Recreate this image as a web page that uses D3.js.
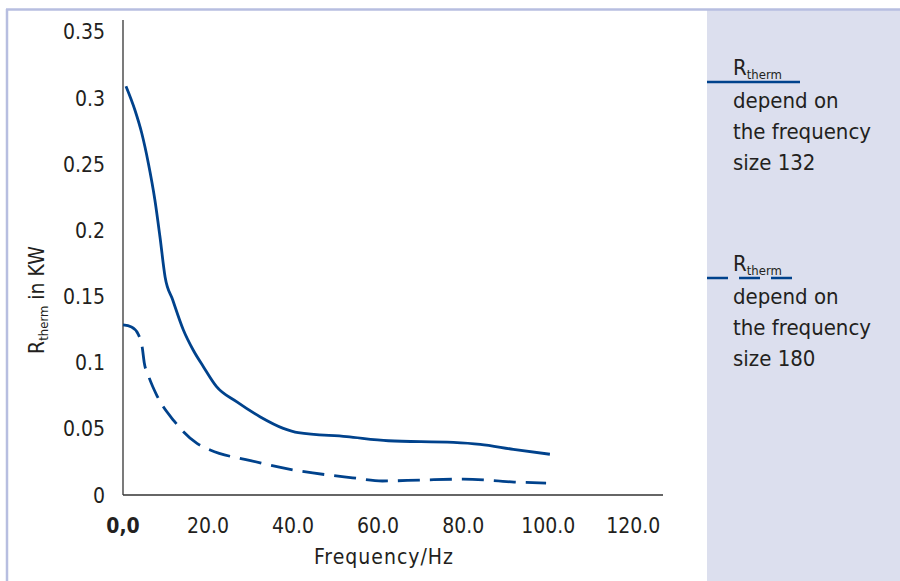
<!DOCTYPE html>
<html>
<head>
<meta charset="utf-8">
<script src="https://cdn.jsdelivr.net/npm/d3@7"></script>
<style>
  body { margin: 0; background: #fff; }
  svg { display: block; font-family: "Liberation Sans Narrow", "DejaVu Sans Condensed", sans-serif; }
  .tick-label { fill: #231f20; font-size: 21px; }
  .axis-title { fill: #231f20; font-size: 21px; }
  .legend-text { fill: #231f20; font-size: 22px; }
</style>
</head>
<body>
<svg></svg>
<script>
// x ticks and labels
var xTicks = [0, 20, 40, 60, 80, 100, 120];
var xTickLabels = ['0,0', '20.0', '40.0', '60.0', '80.0', '100.0', '120.0'];
// y ticks and labels
var yTicks = [0, 0.05, 0.1, 0.15, 0.2, 0.25, 0.3, 0.35];
var yTickLabels = ['0', '0.05', '0.1', '0.15', '0.2', '0.25', '0.3', '0.35'];

// size 132 (solid)
var freq132 = [0.7, 2.8, 4.4, 5.95, 7.5, 8.7, 9.9, 11.7, 14.2, 16.5, 18.9, 22.0, 26.7, 32.2, 37.7, 41.2, 52.6, 62.4, 77.7, 84.0, 91.8, 100.4];
var rth132 = [0.309, 0.291, 0.2736, 0.251, 0.223, 0.195, 0.1648, 0.1474, 0.1247, 0.1096, 0.097, 0.0819, 0.0705, 0.0592, 0.0504, 0.0471, 0.0441, 0.041, 0.0398, 0.0383, 0.0345, 0.0308];

// size 180 (dashed)
var freq180 = [0, 2, 3.5, 4.5, 5, 6, 8, 12, 17.4, 20.5, 30, 40, 54, 61, 70, 80, 92, 99.5];
var rth180 = [0.1285, 0.127, 0.122, 0.112, 0.1, 0.09, 0.075, 0.056, 0.039, 0.034, 0.026, 0.019, 0.013, 0.0106, 0.0113, 0.012, 0.0098, 0.009];

var legendLines132 = ['depend on', 'the frequency', 'size 132'];
var legendLines180 = ['depend on', 'the frequency', 'size 180'];

var width = 900;
var height = 581;
var lineColor = '#00428c';
var borderColor = '#b7bee0';

var svg = d3.select('svg')
  .attr('width', width)
  .attr('height', height);

// frame and side panel
svg.append('rect')
  .attr('x', 707).attr('y', 10)
  .attr('width', width - 707).attr('height', height - 10)
  .attr('fill', '#dcdfee');
svg.append('line')
  .attr('x1', 6).attr('x2', width).attr('y1', 9.5).attr('y2', 9.5)
  .attr('stroke', borderColor).attr('stroke-width', 2.5);
svg.append('line')
  .attr('x1', 7).attr('x2', 7).attr('y1', 9).attr('y2', height)
  .attr('stroke', borderColor).attr('stroke-width', 2.5);

var scaleX = d3.scaleLinear().domain([0, 127]).range([123, 663]);
var scaleY = d3.scaleLinear().domain([0, 0.359]).range([495, 20]);

var g = svg.append('g');

// axes lines
g.append('line')
  .attr('x1', scaleX(0)).attr('x2', scaleX(0))
  .attr('y1', scaleY(0.359)).attr('y2', scaleY(0))
  .attr('stroke', '#333').attr('stroke-width', 1.3);
g.append('line')
  .attr('x1', scaleX(0)).attr('x2', scaleX(127))
  .attr('y1', scaleY(0)).attr('y2', scaleY(0))
  .attr('stroke', '#333').attr('stroke-width', 1.5);

// y tick labels
g.selectAll('.y-label')
  .data(yTicks)
  .enter().append('text')
  .attr('class', 'tick-label y-label')
  .attr('x', 105)
  .attr('y', function(d) { return scaleY(d); })
  .attr('dy', '0.36em')
  .attr('text-anchor', 'end')
  .text(function(d, i) { return yTickLabels[i]; });

// x tick labels
g.selectAll('.x-label')
  .data(xTicks)
  .enter().append('text')
  .attr('class', 'tick-label x-label')
  .attr('x', function(d) { return scaleX(d); })
  .attr('y', 533)
  .attr('text-anchor', 'middle')
  .attr('font-weight', function(d, i) { return i === 0 ? 'bold' : 'normal'; })
  .text(function(d, i) { return xTickLabels[i]; });

// axis titles
g.append('text')
  .attr('class', 'axis-title')
  .attr('x', 384).attr('y', 564)
  .attr('text-anchor', 'middle')
  .attr('letter-spacing', '1px')
  .text('Frequency/Hz');

var yTitle = g.append('text')
  .attr('class', 'axis-title')
  .attr('transform', 'translate(44,300) rotate(-90)')
  .attr('text-anchor', 'middle');
yTitle.append('tspan').text('R');
yTitle.append('tspan').attr('font-size', '13px').attr('dy', 4).text('therm');
yTitle.append('tspan').attr('dy', -4).text(' in KW');

// curves
var line = d3.line()
  .x(function(d) { return scaleX(d[0]); })
  .y(function(d) { return scaleY(d[1]); })
  .curve(d3.curveMonotoneX);

g.append('path')
  .datum(d3.zip(freq132, rth132))
  .attr('d', line)
  .attr('fill', 'none')
  .attr('stroke', lineColor)
  .attr('stroke-width', 2.8);

g.append('path')
  .datum(d3.zip(freq180, rth180))
  .attr('d', line)
  .attr('fill', 'none')
  .attr('stroke', lineColor)
  .attr('stroke-width', 2.8)
  .attr('stroke-dasharray', '22,10');

// legend
function drawLegend(top, lines, dashed) {
  var lg = svg.append('g');
  var title = lg.append('text')
    .attr('class', 'legend-text')
    .attr('x', 733).attr('y', top);
  title.append('tspan').text('R');
  title.append('tspan').attr('font-size', '13px').attr('dy', 4).text('therm');
  lg.append('line')
    .attr('x1', 707).attr('x2', dashed ? 793 : 800)
    .attr('y1', top + 7).attr('y2', top + 7)
    .attr('stroke', lineColor).attr('stroke-width', 2.5)
    .attr('stroke-dasharray', dashed ? '21,11' : null);
  lg.selectAll('.legend-line')
    .data(lines)
    .enter().append('text')
    .attr('class', 'legend-text')
    .attr('x', 733)
    .attr('y', function(d, i) { return top + 33 + i * 31; })
    .text(function(d) { return d; });
}

drawLegend(75, legendLines132, false);
drawLegend(271, legendLines180, true);
</script>
</body>
</html>
